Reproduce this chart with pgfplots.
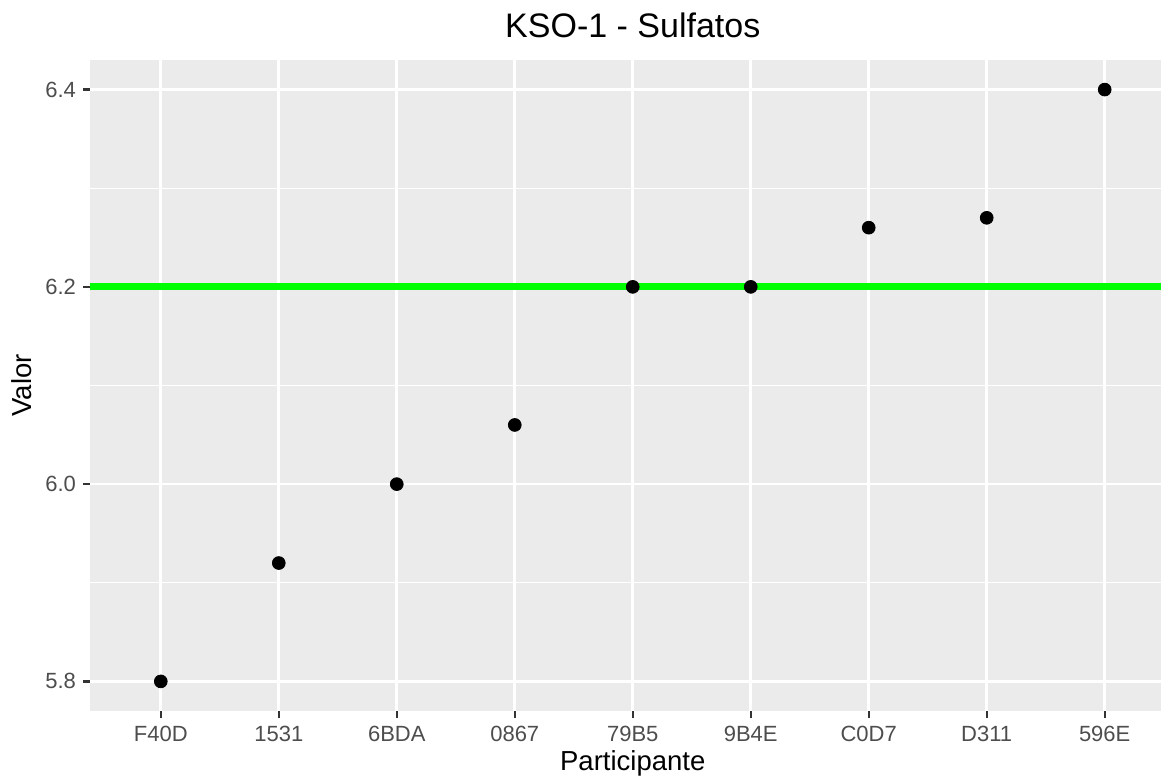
\documentclass[border=0pt]{standalone}
\usepackage{pgfplots}
\pgfplotsset{compat=1.18}
\usepackage{fontspec}
\setmainfont{Liberation Sans}
\definecolor{panelgrey}{HTML}{EBEBEB}
\definecolor{ticktext}{HTML}{4D4D4D}
\definecolor{tickmark}{HTML}{333333}
\definecolor{refgreen}{HTML}{00FF00}
\begin{document}
\begin{tikzpicture}
\path[use as bounding box] (0,0) rectangle (580.5pt,388pt);
\begin{axis}[
    at={(45pt,32.5pt)}, anchor=south west,
    scale only axis, width=542.75pt, height=325.5pt,
    xmin=0.4, xmax=9.6, ymin=5.77, ymax=6.43,
    axis background/.style={fill=panelgrey},
    axis line style={draw=none},
    xtick pos=bottom, ytick pos=left,
    xtick={1,...,9},
    xticklabels={F40D,1531,6BDA,0867,79B5,9B4E,C0D7,D311,596E},
    ytick={5.8,6.0,6.2,6.4},
    yticklabels={5.8,6.0,6.2,6.4},
    minor ytick={5.9,6.1,6.3},
    xmajorgrids, ymajorgrids, yminorgrids,
    major grid style={white, line width=1.35pt},
    minor grid style={white, line width=0.7pt},
    tick align=outside,
    major tick length=3.5pt,
    minor tick length=0pt,
    tick style={tickmark, line width=1.1pt},
    tick label style={font=\fontsize{11}{13}\selectfont, text=ticktext},
    xticklabel style={yshift=-0.5pt},
    /pgf/number format/assume math mode=true,
    clip=false,
]
    % reference line
    \addplot[refgreen, line width=3.5pt] coordinates {(0.4,6.2)(9.6,6.2)};
    % participant values
    \addplot[only marks, mark=*, mark size=3.2pt, mark options={fill=black, draw=black}]
        coordinates {(1,5.80)(2,5.92)(3,6.00)(4,6.06)(5,6.20)(6,6.20)(7,6.26)(8,6.27)(9,6.40)};
    \node[anchor=base, yshift=11pt, font=\fontsize{17}{20}\selectfont] at (rel axis cs:0.5,1) {KSO-1 - Sulfatos};
    \node[anchor=base, yshift=-29.5pt, font=\fontsize{13.75}{16}\selectfont] at (rel axis cs:0.5,0) {Participante};
    \node[anchor=base, rotate=90, font=\fontsize{13.75}{16}\selectfont] at ([xshift=-29pt]rel axis cs:0,0.5) {Valor};
\end{axis}
\end{tikzpicture}
\end{document}
